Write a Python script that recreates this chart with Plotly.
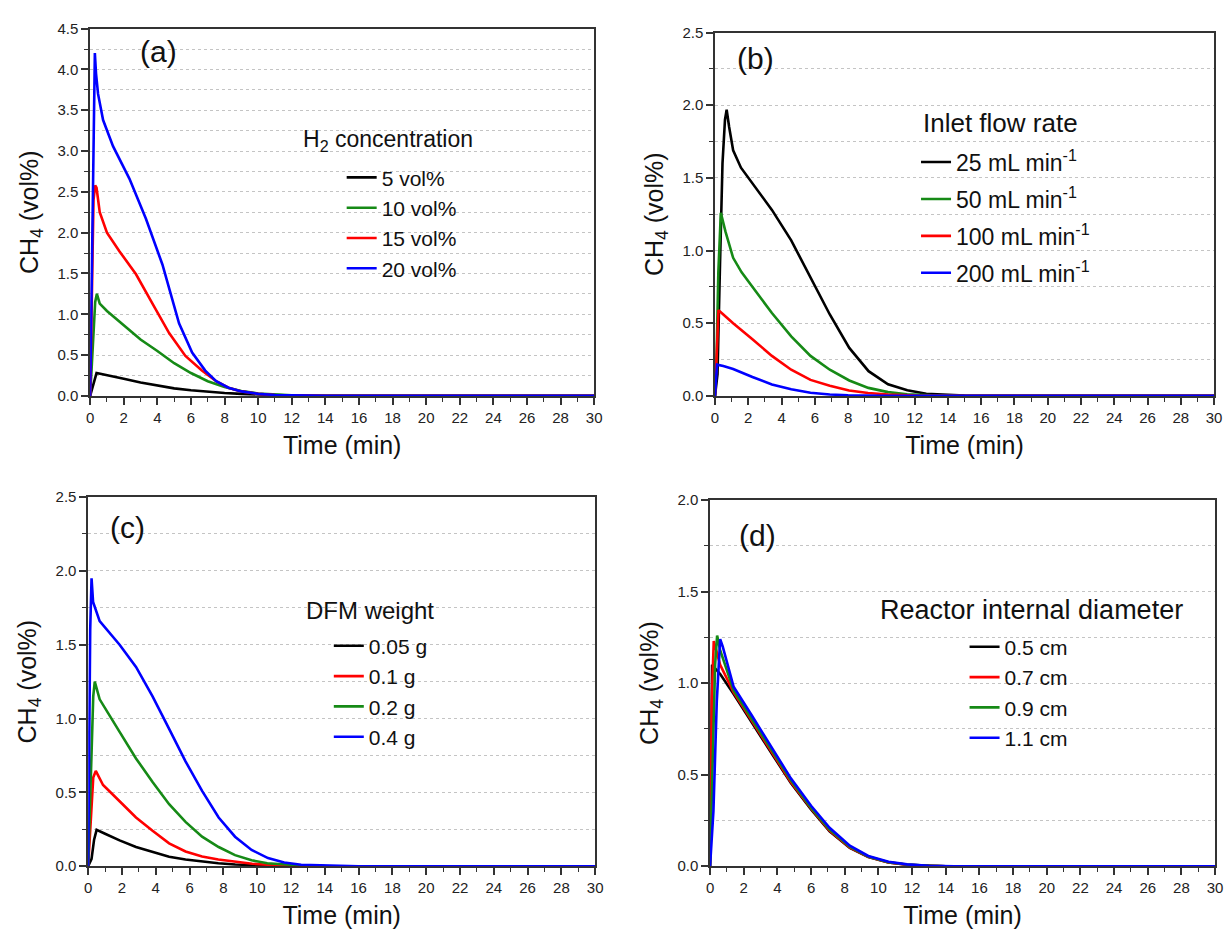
import plotly.graph_objects as go

W, H = 1232, 941
FONT = "Liberation Sans, Arial, sans-serif"

# ---------------- Panel (a): H2 concentration ----------------
a_names = ["5 vol%", "10 vol%", "15 vol%", "20 vol%"]
a5_t = [0, 0.15, 0.3, 0.38, 0.6, 1, 2, 3, 4, 5, 6, 7, 8, 9, 10, 11, 12, 13, 15, 30]
a5_v = [0, 0.12, 0.25, 0.28, 0.27, 0.255, 0.21, 0.165, 0.125, 0.092, 0.068, 0.05, 0.035, 0.024, 0.015, 0.009, 0.005, 0.002, 0, 0]
a10_t = [0, 0.1, 0.2, 0.3, 0.4, 0.57, 1, 2, 3, 4, 5, 6, 7, 8, 9, 10, 11, 12, 14, 30]
a10_v = [0, 0.35, 0.8, 1.15, 1.25, 1.13, 1.04, 0.86, 0.69, 0.55, 0.4, 0.28, 0.18, 0.11, 0.06, 0.03, 0.014, 0.006, 0.001, 0]
a15_t = [0, 0.1, 0.2, 0.3, 0.38, 0.57, 1, 1.75, 2.73, 3.71, 4.7, 5.67, 6.65, 7.5, 8.23, 9, 10, 11, 12, 14, 30]
a15_v = [0, 1.1, 2.4, 2.58, 2.55, 2.25, 2.0, 1.77, 1.49, 1.13, 0.77, 0.49, 0.31, 0.18, 0.1, 0.055, 0.025, 0.011, 0.005, 0.001, 0]
a20_t = [0, 0.1, 0.2, 0.28, 0.35, 0.47, 0.77, 1.36, 2.34, 3.32, 4.3, 5.29, 6.07, 6.85, 7.5, 8.23, 9, 10, 11, 12, 14, 16, 30]
a20_v = [0, 1.5, 3.4, 4.2, 3.95, 3.7, 3.38, 3.06, 2.66, 2.17, 1.61, 0.89, 0.53, 0.31, 0.18, 0.1, 0.055, 0.025, 0.011, 0.005, 0.001, 0, 0]

# ---------------- Panel (b): inlet flow rate ----------------
b_names = ["25 mL min<sup>-1</sup>", "50 mL min<sup>-1</sup>", "100 mL min<sup>-1</sup>", "200 mL min<sup>-1</sup>"]
b25_t = [0, 0.15, 0.3, 0.45, 0.6, 0.7, 0.85, 1.09, 1.56, 2.26, 3.42, 4.58, 5.74, 6.9, 8.07, 9.23, 10.4, 11.56, 12.7, 14, 15, 16.5, 30]
b25_v = [0, 0.15, 0.9, 1.6, 1.9, 1.97, 1.85, 1.69, 1.57, 1.46, 1.28, 1.07, 0.82, 0.56, 0.33, 0.17, 0.08, 0.038, 0.015, 0.006, 0.002, 0, 0]
b50_t = [0, 0.1, 0.2, 0.3, 0.35, 0.63, 1.09, 1.6, 2.25, 3.42, 4.58, 5.74, 6.9, 8.07, 9.22, 10.4, 11.55, 13, 15, 30]
b50_v = [0, 0.3, 0.85, 1.2, 1.26, 1.13, 0.95, 0.85, 0.75, 0.57, 0.41, 0.275, 0.18, 0.106, 0.055, 0.026, 0.011, 0.004, 0, 0]
b100_t = [0, 0.08, 0.15, 0.21, 0.5, 1.09, 2.25, 3.42, 4.58, 5.74, 6.9, 8.06, 9.2, 10.4, 12, 14, 30]
b100_v = [0, 0.25, 0.5, 0.59, 0.56, 0.5, 0.39, 0.275, 0.18, 0.11, 0.07, 0.037, 0.02, 0.01, 0.003, 0, 0]
b200_t = [0, 0.05, 0.12, 0.5, 1.09, 2.25, 3.42, 4.58, 5.74, 6.9, 8, 10, 12, 30]
b200_v = [0, 0.12, 0.215, 0.205, 0.185, 0.13, 0.078, 0.045, 0.022, 0.01, 0.004, 0.001, 0, 0]

# ---------------- Panel (c): DFM weight ----------------
c_names = ["0.05 g", "0.1 g", "0.2 g", "0.4 g"]
c05_t = [0, 0.2, 0.35, 0.5, 1, 1.86, 2.83, 3.81, 4.79, 5.76, 6.74, 7.7, 8.7, 9.7, 10.6, 12, 30]
c05_v = [0, 0.05, 0.18, 0.246, 0.22, 0.175, 0.13, 0.097, 0.064, 0.045, 0.03, 0.02, 0.012, 0.007, 0.003, 0, 0]
c1_t = [0, 0.15, 0.3, 0.45, 0.88, 1.86, 2.83, 3.81, 4.79, 5.76, 6.74, 7.7, 8.69, 9.7, 10.6, 12.6, 14, 30]
c1_v = [0, 0.3, 0.6, 0.645, 0.55, 0.44, 0.33, 0.24, 0.155, 0.1, 0.066, 0.045, 0.03, 0.017, 0.01, 0.003, 0, 0]
c2_t = [0, 0.15, 0.3, 0.39, 0.68, 1.86, 2.83, 3.81, 4.79, 5.76, 6.74, 7.72, 8.69, 9.67, 10.6, 12.6, 14, 30]
c2_v = [0, 0.6, 1.15, 1.25, 1.13, 0.91, 0.73, 0.57, 0.42, 0.3, 0.2, 0.13, 0.075, 0.04, 0.02, 0.005, 0.001, 0]
c4_t = [0, 0.05, 0.12, 0.2, 0.29, 0.68, 1.86, 2.83, 3.81, 4.79, 5.76, 6.74, 7.72, 8.69, 9.67, 10.64, 11.6, 12.6, 14.6, 16, 30]
c4_v = [0, 0.8, 1.6, 1.95, 1.79, 1.66, 1.5, 1.35, 1.15, 0.93, 0.71, 0.51, 0.33, 0.2, 0.11, 0.055, 0.025, 0.01, 0.002, 0, 0]

# ---------------- Panel (d): reactor internal diameter ----------------
d_names = ["0.5 cm", "0.7 cm", "0.9 cm", "1.1 cm"]
d05_t = [0, 0.05, 0.12, 0.3, 0.6, 1.4, 2.5, 3.7, 4.8, 6, 7.1, 8.3, 9.4, 10.6, 11.7, 13, 14, 30]
d05_v = [0, 0.6, 1.1, 1.08, 1.05, 0.94, 0.78, 0.61, 0.455, 0.31, 0.19, 0.1, 0.05, 0.02, 0.008, 0.002, 0, 0]
d07_t = [0, 0.1, 0.22, 0.35, 0.6, 1.4, 2.5, 3.7, 4.8, 6, 7.1, 8.3, 9.4, 10.6, 11.7, 13, 14, 30]
d07_v = [0, 0.9, 1.23, 1.18, 1.1, 0.95, 0.79, 0.62, 0.46, 0.315, 0.195, 0.103, 0.051, 0.021, 0.008, 0.002, 0, 0]
d09_t = [0, 0.15, 0.3, 0.42, 0.6, 1.4, 2.5, 3.7, 4.8, 6, 7.1, 8.3, 9.4, 10.6, 11.7, 13, 14, 30]
d09_v = [0, 0.6, 1.1, 1.26, 1.18, 0.96, 0.8, 0.63, 0.47, 0.32, 0.2, 0.107, 0.053, 0.022, 0.009, 0.002, 0, 0]
d11_t = [0, 0.2, 0.4, 0.6, 0.75, 1.4, 2.5, 3.7, 4.8, 6, 7.1, 8.3, 9.4, 10.6, 11.7, 13, 14.5, 30]
d11_v = [0, 0.3, 0.9, 1.24, 1.2, 0.98, 0.82, 0.645, 0.48, 0.33, 0.21, 0.112, 0.056, 0.024, 0.01, 0.003, 0, 0]

legend_titles = ["H<sub>2</sub> concentration", "Inlet flow rate", "DFM weight", "Reactor internal diameter"]
panel_labels = ["(a)", "(b)", "(c)", "(d)"]

BLACK, GREEN, RED, BLUE = "#000000", "#168a16", "#ff0000", "#0000ff"

panels = [
    ("", "legend", [(a5_t, a5_v, a_names[0], BLACK), (a10_t, a10_v, a_names[1], GREEN),
                    (a15_t, a15_v, a_names[2], RED), (a20_t, a20_v, a_names[3], BLUE)]),
    ("2", "legend2", [(b25_t, b25_v, b_names[0], BLACK), (b50_t, b50_v, b_names[1], GREEN),
                      (b100_t, b100_v, b_names[2], RED), (b200_t, b200_v, b_names[3], BLUE)]),
    ("3", "legend3", [(c05_t, c05_v, c_names[0], BLACK), (c1_t, c1_v, c_names[1], RED),
                      (c2_t, c2_v, c_names[2], GREEN), (c4_t, c4_v, c_names[3], BLUE)]),
    ("4", "legend4", [(d05_t, d05_v, d_names[0], BLACK), (d07_t, d07_v, d_names[1], RED),
                      (d09_t, d09_v, d_names[2], GREEN), (d11_t, d11_v, d_names[3], BLUE)]),
]

fig = go.Figure()
for suffix, leg, series in panels:
    for i, (t, v, name, col) in enumerate(series):
        fig.add_trace(go.Scatter(
            x=t, y=v, mode="lines", name=name,
            line=dict(color=col, width=2.6),
            xaxis="x" + suffix, yaxis="y" + suffix,
            legend=leg, legendgroup=leg + str(i),
        ))

AX = "#333333"


def xax(domain, anchor):
    return dict(
        domain=domain, anchor=anchor, range=[0, 30], tick0=0, dtick=2,
        ticks="outside", ticklen=7, tickwidth=1.5, tickcolor=AX,
        showline=True, linecolor=AX, linewidth=1.5, mirror=True,
        showgrid=False, zeroline=False, layer="below traces",
        minor=dict(dtick=1, ticks="outside", ticklen=4, tickwidth=1.2, tickcolor=AX),
        tickfont=dict(family=FONT, size=15, color="#222222"),
        title=dict(text="Time (min)", font=dict(family=FONT, size=25, color="#111111"), standoff=12),
    )


def yax(domain, anchor, top):
    return dict(
        domain=domain, anchor=anchor, range=[0, top], tick0=0, dtick=0.5, tickformat=".1f",
        ticks="outside", ticklen=7, tickwidth=1.5, tickcolor=AX,
        showline=True, linecolor=AX, linewidth=1.5, mirror=True,
        showgrid=True, gridcolor="#c4c4c4", gridwidth=1, griddash="dot",
        zeroline=False, layer="below traces",
        minor=dict(dtick=0.25, ticks="outside", ticklen=4, tickwidth=1.2, tickcolor=AX,
                   showgrid=True, gridcolor="#c4c4c4", gridwidth=1, griddash="dot"),
        tickfont=dict(family=FONT, size=15, color="#222222"),
        title=dict(text="CH<sub>4</sub> (vol%)", font=dict(family=FONT, size=25, color="#111111"), standoff=12),
    )


def px(x):
    return x / W


def py(y):
    return 1 - y / H


def legend(left, top, size, gap):
    return dict(
        x=px(left), y=py(top), xref="paper", yref="paper", xanchor="left", yanchor="top",
        bgcolor="rgba(0,0,0,0)", borderwidth=0, tracegroupgap=gap, itemwidth=30,
        font=dict(family=FONT, size=size, color="#111111"),
    )


fig.update_layout(
    width=W, height=H, margin=dict(l=0, r=0, t=0, b=0),
    paper_bgcolor="white", plot_bgcolor="white", showlegend=True,
    xaxis=xax([px(87), px(596)], "y"),
    yaxis=yax([py(394), py(20)], "x", 4.5),
    xaxis2=xax([px(718), px(1222)], "y2"),
    yaxis2=yax([py(394), py(24)], "x2", 2.5),
    xaxis3=xax([px(85), px(597)], "y3"),
    yaxis3=yax([py(873), py(497)], "x3", 2.5),
    xaxis4=xax([px(713), px(1223)], "y4"),
    yaxis4=yax([py(873), py(500)], "x4", 2.0),
    legend=legend(341, 151, 21, 0),
    legend2=legend(921, 134, 23, 4),
    legend3=legend(328, 628, 21, 0),
    legend4=legend(970, 629, 21, 0),
)

# legend titles
for text, lx, ly, fs in zip(legend_titles, [300, 926, 303, 883], [134, 116, 613, 612], [23, 26, 24, 27]):
    fig.add_annotation(text=text, x=px(lx), y=py(ly), xref="paper", yref="paper",
                       xanchor="left", yanchor="middle", showarrow=False,
                       font=dict(family=FONT, size=fs, color="#111111"))

# panel labels
for label, cx, cy in zip(panel_labels, [156, 759, 125, 761], [43, 50, 528, 536]):
    fig.add_annotation(text=label, x=px(cx), y=py(cy), xref="paper", yref="paper",
                       xanchor="center", yanchor="middle", showarrow=False,
                       font=dict(family=FONT, size=30, color="#111111"))

fig.write_html("out.html")
